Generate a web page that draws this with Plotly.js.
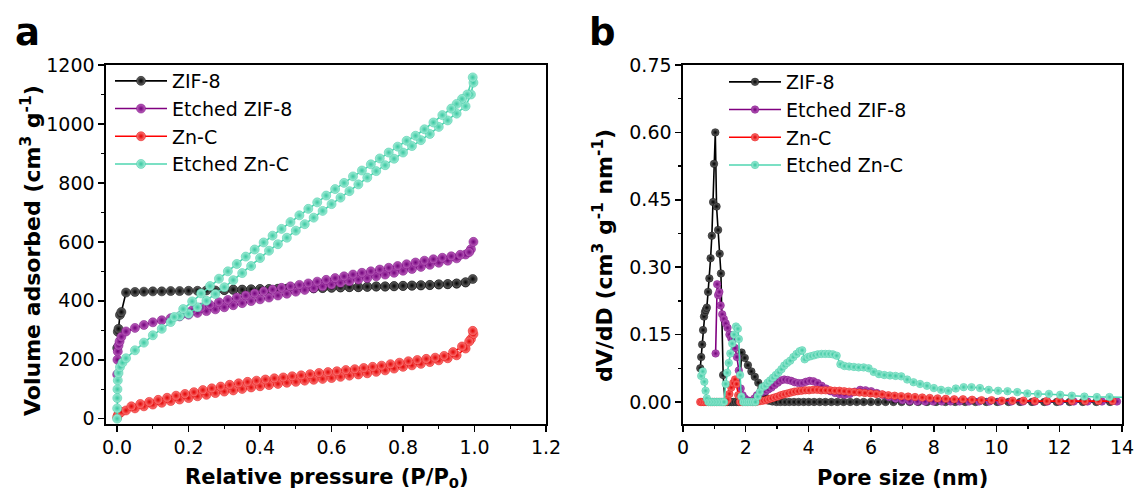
<!DOCTYPE html>
<html><head><meta charset="utf-8">
<script src="https://cdn.plot.ly/plotly-3.0.1.min.js"></script>
<style>html,body{margin:0;padding:0;background:#fff}#chart{width:1138px;height:495px}</style>
</head><body><div id="chart"></div>
<script>
// ---------- Panel a : N2 isotherms (x = P/P0, y = cm3 g-1) ----------
const zif8AdsX = [0.0003,0.002,0.004,0.008,0.012,0.025,0.05,0.075,0.1,0.125,0.15,0.175,0.2,0.225,0.25,0.275,0.3,0.325,0.35,0.375,0.4,0.425,0.45,0.475,0.5,0.525,0.55,0.575,0.6,0.625,0.65,0.675,0.7,0.725,0.75,0.775,0.8,0.825,0.85,0.875,0.9,0.925,0.95,0.975,0.995];
const zif8AdsY = [240,295,305,352,362,428,430,431,432,432,433,433,434,434,435,435,436,437,437,438,439,439,440,440,441,442,442,443,444,445,446,446,447,448,448,449,450,451,452,453,455,456,458,462,474];
const zif8DesX = [0.975,0.95,0.925,0.9,0.875,0.85,0.825,0.8,0.775,0.75,0.725,0.7,0.675,0.65,0.625,0.6,0.575,0.55,0.525,0.5,0.475,0.45,0.425,0.4,0.375,0.35,0.325,0.3];
const zif8DesY = [463,459,457,456,454,453,452,451,450,449,449,448,447,447,446,445,444,443,443,442,441,441,440,440,439,438,438,437];

const ezifAdsX = [0.0003,0.001,0.002,0.004,0.007,0.012,0.025,0.05,0.075,0.1,0.125,0.15,0.175,0.2,0.225,0.25,0.275,0.3,0.325,0.35,0.375,0.4,0.425,0.45,0.475,0.5,0.525,0.55,0.575,0.6,0.625,0.65,0.675,0.7,0.725,0.75,0.775,0.8,0.825,0.85,0.875,0.9,0.925,0.95,0.975,0.99,0.997];
const ezifAdsY = [150,200,228,248,262,278,296,308,318,327,334,341,347,353,359,365,371,378,385,392,399,405,411,418,424,431,437,443,449,455,461,466,472,477,483,489,495,502,508,515,522,529,536,544,557,575,600];
const ezifDesX = [0.985,0.96,0.935,0.91,0.885,0.86,0.835,0.81,0.785,0.76,0.735,0.71,0.685,0.66,0.635,0.61,0.585,0.56,0.535,0.51,0.485,0.46,0.435,0.41,0.385,0.36,0.335,0.31,0.285,0.26,0.235,0.21,0.185];
const ezifDesY = [565,556,551,546,541,536,530,524,518,512,506,500,495,489,483,477,471,465,459,454,449,444,438,432,425,418,411,403,395,386,377,367,357];

const zncAdsX = [0.0003,0.002,0.006,0.012,0.025,0.05,0.075,0.1,0.125,0.15,0.175,0.2,0.225,0.25,0.275,0.3,0.325,0.35,0.375,0.4,0.425,0.45,0.475,0.5,0.525,0.55,0.575,0.6,0.625,0.65,0.675,0.7,0.725,0.75,0.775,0.8,0.825,0.85,0.875,0.9,0.925,0.95,0.975,0.99,0.997];
const zncAdsY = [5,12,18,23,28,35,42,48,54,60,65,70,76,81,87,92,96,101,106,110,114,118,122,125,129,132,135,138,142,146,150,154,159,164,170,176,181,186,192,198,205,215,238,270,287];
const zncDesX = [0.995,0.985,0.965,0.94,0.915,0.89,0.865,0.84,0.815,0.79,0.765,0.74,0.715,0.69,0.665,0.64,0.615,0.59,0.565,0.54,0.515,0.49,0.465,0.44,0.415,0.39,0.365,0.34,0.315,0.29,0.265,0.24,0.215,0.19,0.165,0.14,0.115,0.09,0.065,0.04];
const zncDesY = [298,262,245,226,213,207,203,199,195,190,185,180,176,172,168,165,161,158,155,151,147,144,140,137,133,129,125,120,115,109,103,97,90,84,78,71,64,57,50,42];

const eznAdsX = [0.0001,0.0003,0.0006,0.001,0.002,0.004,0.008,0.015,0.025,0.05,0.075,0.1,0.125,0.15,0.175,0.2,0.225,0.25,0.275,0.3,0.325,0.35,0.375,0.4,0.425,0.45,0.475,0.5,0.525,0.55,0.575,0.6,0.625,0.65,0.675,0.7,0.725,0.75,0.775,0.8,0.825,0.85,0.875,0.9,0.925,0.95,0.975,0.99,0.997];
const eznAdsY = [0,35,70,100,130,155,175,190,205,232,258,283,305,328,348,356,378,400,423,446,470,494,518,545,570,592,614,638,660,682,705,728,750,772,795,818,840,860,882,903,925,945,966,990,1012,1035,1060,1100,1140];
const eznDesX = [0.995,0.98,0.965,0.95,0.935,0.91,0.885,0.86,0.835,0.81,0.785,0.76,0.735,0.71,0.685,0.66,0.635,0.61,0.585,0.56,0.535,0.51,0.485,0.46,0.435,0.41,0.385,0.36,0.335,0.31,0.285,0.26,0.235,0.21,0.185,0.16];
const eznDesY = [1158,1100,1085,1068,1052,1030,1005,982,960,943,923,903,883,863,842,822,800,779,757,734,712,690,667,644,621,598,574,550,525,500,475,450,425,398,372,345];

// ---------- Panel b : pore size distribution (x = nm, y = cm3 g-1 nm-1) ----------
const psdZif8X = [0.55,0.58,0.61,0.64,0.67,0.70,0.73,0.76,0.80,0.84,0.88,0.92,0.96,0.99,1.03,1.07,1.12,1.17,1.21,1.28,1.34,1.41,1.48,1.55,1.62,1.70,1.78,1.87,1.97,2.07,2.18,2.29,2.40,2.50,2.61,2.73,2.85,2.98,3.11,3.25,3.39,3.54,3.69,3.85,4.01,4.18,4.36,4.54,4.73,4.92,5.12,5.33,5.54,5.76,5.99,6.22,6.46,6.71,6.97,7.23,7.5,7.78,8.07,8.37,8.68,9.0,9.33,9.67,10.02,10.38,10.75,11.13,11.52,11.92,12.33,12.75,13.18,13.62];
const psdZif8Y = [0.075,0.10,0.128,0.16,0.19,0.20,0.205,0.21,0.245,0.275,0.32,0.37,0.445,0.53,0.60,0.435,0.383,0.33,0.286,0.06,0,0,0,0,0,0,0,0.11,0.098,0.082,0.068,0.056,0.043,0.03,0.012,0.003,0.001,0,0,0,0,0,0,0,0,0,0,0,0,0,0,0,0,0,0,0,0,0,0,0,0,0,0,0,0,0,0,0,0,0,0,0,0,0,0,0,0,0];

const psdEzifX = [1.04,1.09,1.12,1.16,1.20,1.25,1.30,1.36,1.42,1.48,1.54,1.60,1.66,1.72,1.78,1.84,1.90,1.97,2.04,2.12,2.20,2.28,2.36,2.45,2.54,2.63,2.72,2.82,2.92,3.02,3.12,3.23,3.34,3.45,3.56,3.68,3.80,3.92,4.04,4.16,4.29,4.42,4.56,4.70,4.85,5.00,5.16,5.32,5.48,5.65,5.82,6.00,6.18,6.37,6.57,6.78,7.00,7.23,7.47,7.72,7.98,8.25,8.53,8.82,9.12,9.44,9.77,10.11,10.47,10.84,11.22,11.62,12.03,12.46,12.90,13.36,13.84];
const psdEzifY = [0.108,0.262,0.238,0.245,0.215,0.195,0.185,0.175,0.165,0.15,0.142,0.14,0.12,0.10,0.07,0.03,0.015,0.008,0.004,0.002,0.003,0.008,0.015,0.02,0.022,0.024,0.028,0.032,0.038,0.043,0.048,0.05,0.049,0.047,0.044,0.042,0.042,0.045,0.047,0.046,0.042,0.036,0.03,0.024,0.02,0.017,0.016,0.018,0.023,0.027,0.026,0.024,0.02,0.016,0.011,0.007,0.004,0.002,0.001,0.001,0.001,0.001,0.001,0.001,0.001,0.001,0.001,0.001,0.001,0.001,0.001,0.001,0.001,0.001,0.001,0.001,0.001];

const psdZncX = [0.55,0.6,0.65,0.7,0.76,0.82,0.88,0.94,1.0,1.06,1.12,1.18,1.24,1.3,1.36,1.42,1.48,1.54,1.6,1.66,1.71,1.76,1.82,1.9,1.98,2.06,2.14,2.22,2.3,2.38,2.46,2.55,2.64,2.73,2.82,2.92,3.02,3.12,3.22,3.33,3.44,3.55,3.66,3.78,3.9,4.02,4.15,4.28,4.41,4.55,4.69,4.84,4.99,5.14,5.3,5.46,5.63,5.8,5.98,6.16,6.35,6.55,6.75,6.96,7.18,7.4,7.63,7.87,8.12,8.38,8.65,8.93,9.22,9.52,9.84,10.17,10.51,10.86,11.22,11.6,11.99,12.4,12.82,13.25,13.7];
const psdZncY = [0,0,0,0,0,0,0,0,0,0,0,0,0,0,0,0.005,0.018,0.032,0.042,0.05,0.04,0.015,0,0,0,0,0,0,0,0.001,0.002,0.003,0.004,0.006,0.008,0.01,0.012,0.015,0.017,0.019,0.021,0.023,0.024,0.025,0.026,0.026,0.027,0.027,0.026,0.026,0.026,0.025,0.025,0.024,0.023,0.022,0.021,0.02,0.019,0.018,0.017,0.015,0.014,0.013,0.012,0.011,0.01,0.009,0.008,0.007,0.006,0.006,0.005,0.004,0.004,0.003,0.003,0.003,0.002,0.002,0.002,0.002,0.002,0.002,0.002];

const psdEznX = [0.58,0.63,0.68,0.72,0.76,0.81,0.86,0.91,0.96,1.01,1.06,1.11,1.16,1.21,1.26,1.31,1.36,1.41,1.46,1.51,1.57,1.63,1.69,1.75,1.78,1.82,1.86,1.92,1.98,2.04,2.1,2.17,2.24,2.31,2.38,2.45,2.53,2.62,2.7,2.78,2.87,2.96,3.05,3.14,3.23,3.32,3.42,3.52,3.62,3.72,3.8,3.88,3.98,4.08,4.19,4.3,4.42,4.54,4.66,4.78,4.9,5.02,5.15,5.3,5.45,5.6,5.76,5.92,6.08,6.25,6.42,6.6,6.78,6.96,7.15,7.35,7.56,7.78,8.0,8.23,8.46,8.7,8.95,9.2,9.47,9.75,10.05,10.35,10.66,10.98,11.32,11.67,12.03,12.4,12.8,13.2,13.6,14.3];
const psdEznY = [0.058,0.068,0.045,0.025,0.008,0,0,0,0,0,0,0,0,0,0,0,0.04,0.065,0.087,0.108,0.13,0.15,0.168,0.163,0.14,0.06,0.012,0,0,0,0,0,0,0,0.012,0.022,0.033,0.036,0.043,0.048,0.054,0.06,0.066,0.073,0.081,0.087,0.092,0.1,0.107,0.113,0.115,0.095,0.1,0.102,0.104,0.106,0.107,0.107,0.107,0.106,0.103,0.084,0.08,0.079,0.078,0.077,0.077,0.075,0.067,0.062,0.06,0.059,0.058,0.057,0.05,0.044,0.04,0.036,0.031,0.027,0.025,0.03,0.033,0.033,0.031,0.027,0.025,0.024,0.022,0.019,0.018,0.018,0.016,0.014,0.012,0.011,0.011,0.01];

const seriesNames = ['ZIF-8','Etched ZIF-8','Zn-C','Etched Zn-C'];
const xTitleA = 'Relative pressure (P/P<sub>0</sub>)';
const yTitleA = 'Volume adsorbed (cm<sup>3</sup> g<sup>-1</sup>)';
const xTitleB = 'Pore size (nm)';
const yTitleB = 'dV/dD (cm<sup>3</sup> g<sup>-1</sup> nm<sup>-1</sup>)';

// styles
const lineColors = ['#000000','#800080','#ff0000','#4fd6b1'];
const centerColors = ['#6a6a6a','#c064c0','#ff8080','#a6eed9'];
const edgeColors = ['#000000','#70007a','#e00000','#38c7a0'];

const isoX = [zif8AdsX.concat(zif8DesX), ezifAdsX.concat(ezifDesX), zncAdsX.concat(zncDesX), eznAdsX.concat(eznDesX)];
const isoY = [zif8AdsY.concat(zif8DesY), ezifAdsY.concat(ezifDesY), zncAdsY.concat(zncDesY), eznAdsY.concat(eznDesY)];
const psdX = [psdZif8X, psdEzifX, psdZncX, psdEznX];
const psdY = [psdZif8Y, psdEzifY, psdZncY, psdEznY];

const FONT = 'DejaVu Sans';
const traces = [];
function mk(i, x, y, xa, ya, lg, size) {
  return {
    type: 'scatter', mode: 'lines+markers', name: seriesNames[i],
    x: x, y: y, xaxis: xa, yaxis: ya, legend: lg,
    line: {color: lineColors[i], width: 1.6},
    marker: {symbol: 'circle', size: size, color: centerColors[i],
             gradient: {type: 'radial', color: edgeColors[i]},
             line: {color: edgeColors[i], width: 0.5}},
    hoverinfo: 'skip'
  };
}
for (let i = 0; i < 4; i++) traces.push(mk(i, isoX[i], isoY[i], 'x', 'y', 'legend', 9));
for (let i = 0; i < 4; i++) traces.push(mk(i, psdX[i], psdY[i], 'x2', 'y2', 'legend2', 7.5));

const W = 1138, H = 495;
const px = v => v / W, py = v => (H - v) / H;
const tickFont = {family: FONT, size: 19, color: '#000'};
function axis(extra) {
  return Object.assign({
    showline: true, linecolor: '#000', linewidth: 1.6, mirror: true,
    ticks: 'outside', ticklen: 6, tickwidth: 1.5, tickcolor: '#000',
    showgrid: false, zeroline: false, tickfont: tickFont, fixedrange: true
  }, extra);
}
const legendBase = {
  xanchor: 'left', yanchor: 'top', bgcolor: 'rgba(0,0,0,0)', borderwidth: 0,
  font: {family: FONT, size: 19, color: '#000'}, itemwidth: 52, tracegroupgap: 0
};
const titleFont = (s) => ({family: FONT, size: s, color: '#000', weight: 'bold'});

const layout = {
  width: W, height: H, autosize: false,
  margin: {l: 0, r: 0, t: 0, b: 0},
  paper_bgcolor: '#fff', plot_bgcolor: '#fff',
  showlegend: true,
  xaxis: axis({domain: [px(106), px(546)], range: [-0.031, 1.2], dtick: 0.2, tick0: 0, tickformat: '.1f', anchor: 'y',
               minor: {dtick: 0.1, tick0: 0, ticks: 'outside', ticklen: 3.5, tickwidth: 1.3, tickcolor: '#000'}}),
  yaxis: axis({domain: [py(424), py(65)], range: [-18, 1200], dtick: 200, tick0: 0, anchor: 'x',
               minor: {dtick: 100, tick0: 0, ticks: 'outside', ticklen: 3.5, tickwidth: 1.3, tickcolor: '#000'}}),
  xaxis2: axis({domain: [px(683), px(1122)], range: [0, 14], dtick: 2, tick0: 0, anchor: 'y2',
               minor: {dtick: 1, tick0: 0, ticks: 'outside', ticklen: 3.5, tickwidth: 1.3, tickcolor: '#000'}}),
  yaxis2: axis({domain: [py(424), py(65)], range: [-0.049, 0.75], dtick: 0.15, tick0: 0, tickformat: '.2f', anchor: 'x2',
               minor: {dtick: 0.075, tick0: 0, ticks: 'outside', ticklen: 3.5, tickwidth: 1.3, tickcolor: '#000'}}),
  legend: Object.assign({}, legendBase, {x: px(110), y: py(62)}),
  legend2: Object.assign({}, legendBase, {x: px(724), y: py(63)}),
  annotations: [
    {text: 'a', xref: 'paper', yref: 'paper', x: px(27), y: py(33), xanchor: 'center', yanchor: 'middle', showarrow: false, font: titleFont(37)},
    {text: 'b', xref: 'paper', yref: 'paper', x: px(602), y: py(33), xanchor: 'center', yanchor: 'middle', showarrow: false, font: titleFont(37)},
    {text: xTitleA, xref: 'paper', yref: 'paper', x: px(327), y: py(478), xanchor: 'center', yanchor: 'middle', showarrow: false, font: titleFont(21)},
    {text: xTitleB, xref: 'paper', yref: 'paper', x: px(902), y: py(478), xanchor: 'center', yanchor: 'middle', showarrow: false, font: titleFont(21)},
    {text: yTitleA, xref: 'paper', yref: 'paper', x: px(31), y: py(251), xanchor: 'center', yanchor: 'middle', textangle: -90, showarrow: false, font: titleFont(22)},
    {text: yTitleB, xref: 'paper', yref: 'paper', x: px(603), y: py(256), xanchor: 'center', yanchor: 'middle', textangle: -90, showarrow: false, font: titleFont(22)}
  ]
};

Plotly.newPlot('chart', traces, layout, {displayModeBar: false, staticPlot: true});
</script>
</body></html>
